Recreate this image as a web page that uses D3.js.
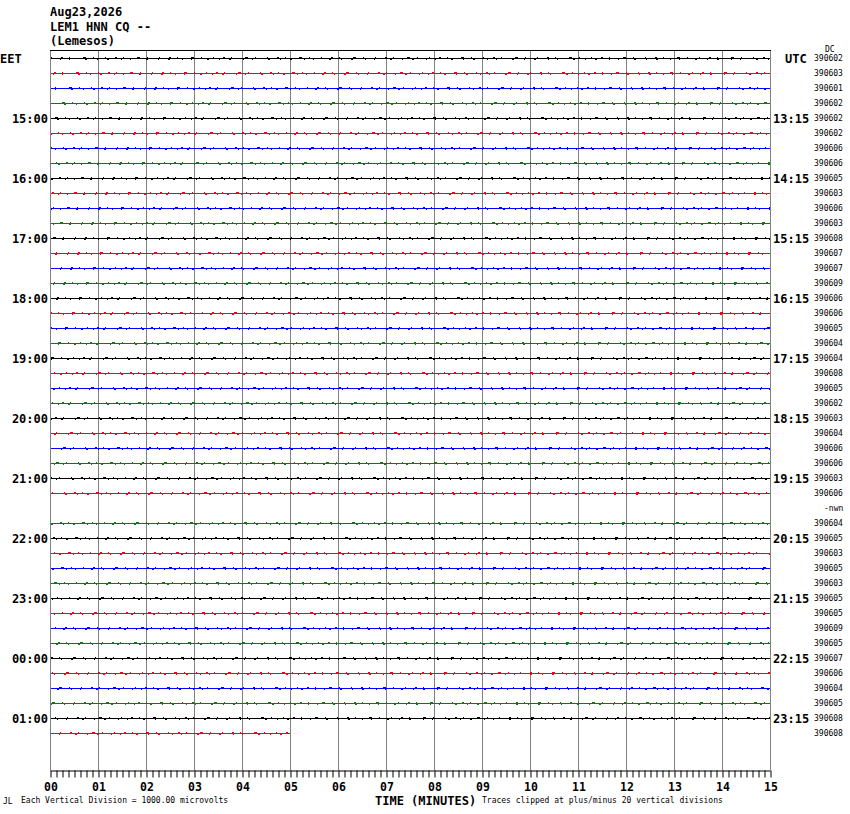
<!DOCTYPE html>
<html>
<head>
<meta charset="utf-8">
<script src="https://cdn.jsdelivr.net/npm/d3@7/dist/d3.min.js"></script>
<style>
  body { margin: 0; background: #fff; }
  svg { display: block; }
  .big { font-family: "DejaVu Sans Mono", monospace; font-weight: bold; font-size: 12px; fill: #000; }
  .small { font-family: "DejaVu Sans Mono", monospace; font-size: 8px; fill: #000; }
</style>
</head>
<body>
<svg id="heli" width="850" height="814"></svg>
<script>
// ===== heliplot: 15 minute rows, one trace per row =====

var headerLines = ["Aug23,2026", "LEM1 HNN CQ --", "(Lemesos)"];

// left (EET) and right (UTC) hour labels, with the row they sit on
var labelRows = [0, 4, 8, 12, 16, 20, 24, 28, 32, 36, 40, 44];
var eetLabels = ["EET", "15:00", "16:00", "17:00", "18:00", "19:00", "20:00",
                 "21:00", "22:00", "23:00", "00:00", "01:00"];
var utcLabels = ["UTC", "13:15", "14:15", "15:15", "16:15", "17:15", "18:15",
                 "19:15", "20:15", "21:15", "22:15", "23:15"];

// per-row DC value printed at the right margin
var dcValues = [
  "390602", "390603", "390601", "390602", "390602", "390602", "390606", "390606",
  "390605", "390603", "390606", "390603", "390608", "390607", "390607", "390609",
  "390606", "390606", "390605", "390604", "390604", "390608", "390605", "390602",
  "390603", "390604", "390606", "390606", "390603", "390606", "-nwn",   "390604",
  "390605", "390603", "390605", "390603", "390605", "390605", "390609", "390605",
  "390607", "390606", "390604", "390605", "390608", "390608"
];

// minutes of data in each row (null = no data)
var traceMinutes = [
  15, 15, 15, 15, 15, 15, 15, 15, 15, 15, 15, 15, 15, 15, 15, 15,
  15, 15, 15, 15, 15, 15, 15, 15, 15, 15, 15, 15, 15, 15, null, 15,
  15, 15, 15, 15, 15, 15, 15, 15, 15, 15, 15, 15, 15, 5
];

var traceColours = ["#000000", "#ff0000", "#0000ff", "#008000"];
var minuteTicks = d3.range(0, 16);
var tickLabels = ["00", "01", "02", "03", "04", "05", "06", "07",
                  "08", "09", "10", "11", "12", "13", "14", "15"];

var svg = d3.select("#heli");

var x = d3.scaleLinear().domain([0, 15]).range([50, 770]);
var y = d3.scaleLinear().domain([0, 45]).range([58, 733]);
var plotTop = 50, plotBottom = 770;

// Header
svg.selectAll(".hdr")
  .data(headerLines)
  .join("text")
  .attr("class", "hdr big")
  .attr("x", 50)
  .attr("y", function(d, i) { return 16 + i * 14.5; })
  .text(function(d) { return d; });

// Vertical minute grid
svg.append("g").selectAll("line")
  .data(minuteTicks)
  .join("line")
  .attr("x1", function(d) { return x(d) + 0.5; })
  .attr("x2", function(d) { return x(d) + 0.5; })
  .attr("y1", plotTop).attr("y2", plotBottom)
  .attr("stroke", "#808080").attr("stroke-width", 1);

// Top border
svg.append("line")
  .attr("x1", x(0)).attr("x2", x(15) + 1)
  .attr("y1", plotTop + 0.5).attr("y2", plotTop + 0.5)
  .attr("stroke", "#000").attr("stroke-width", 1);

// Traces
var rows = traceMinutes.map(function(m, i) { return { row: i, minutes: m }; })
  .filter(function(d) { return d.minutes != null; });

var traceG = svg.append("g");
traceG.selectAll(".trace")
  .data(rows)
  .join("line")
  .attr("class", "trace")
  .attr("x1", x(0) + 1)
  .attr("x2", function(d) { return x(d.minutes); })
  .attr("y1", function(d) { return y(d.row) + 0.5; })
  .attr("y2", function(d) { return y(d.row) + 0.5; })
  .attr("stroke", function(d) { return traceColours[d.row % 4]; })
  .attr("stroke-width", 1);

// sparse noise texture just above / below the trace
[[-1, "1,9,2,6,1,13,3,7,1,11"], [1, "2,12,1,8,1,15,2,10,1,9"]].forEach(function(o, k) {
  traceG.selectAll(".noise" + k)
    .data(rows)
    .join("line")
    .attr("class", "noise" + k)
    .attr("x1", x(0) + 1)
    .attr("x2", function(d) { return x(d.minutes); })
    .attr("y1", function(d) { return y(d.row) + 0.5 + o[0]; })
    .attr("y2", function(d) { return y(d.row) + 0.5 + o[0]; })
    .attr("stroke", function(d) { return traceColours[d.row % 4]; })
    .attr("stroke-width", 1)
    .attr("stroke-dasharray", o[1])
    .attr("stroke-dashoffset", function(d) { return d.row * 7 + k * 5; });
});

// Left (EET) labels
svg.selectAll(".eet")
  .data(eetLabels)
  .join("text")
  .attr("class", "eet big")
  .attr("x", function(d, i) { return i === 0 ? 0 : 48; })
  .attr("y", function(d, i) { return y(labelRows[i]) + 4.5; })
  .attr("text-anchor", function(d, i) { return i === 0 ? "start" : "end"; })
  .text(function(d) { return d; });

// Right (UTC) labels
svg.selectAll(".utc")
  .data(utcLabels)
  .join("text")
  .attr("class", "utc big")
  .attr("x", function(d, i) { return i === 0 ? 785 : 773; })
  .attr("y", function(d, i) { return y(labelRows[i]) + 4.5; })
  .text(function(d) { return d; });

// DC values
svg.selectAll(".dc")
  .data(dcValues)
  .join("text")
  .attr("class", "dc small")
  .attr("x", function(d) { return d === "-nwn" ? 824 : 814; })
  .attr("y", function(d, i) { return y(i) + 2.5; })
  .text(function(d) { return d; });

svg.append("text").attr("class", "small")
  .attr("x", 825).attr("y", 52).attr("font-size", 6.5).text("DC");

// Time axis
var minorTicks = d3.range(0, 15.0001, 1 / 8);
svg.append("g")
  .attr("transform", "translate(0," + (plotBottom + 0.5) + ")")
  .call(d3.axisBottom(x).tickValues(minorTicks).tickSize(7).tickSizeOuter(0).tickFormat(""))
  .call(function(g) {
    g.select(".domain").attr("stroke", "#000");
    g.selectAll(".tick line").attr("stroke", "#000").attr("transform", "translate(0.5,0)");
  });

svg.append("g")
  .attr("transform", "translate(0," + (plotBottom + 0.5) + ")")
  .call(d3.axisBottom(x).tickValues(minuteTicks).tickSize(0).tickPadding(12)
    .tickFormat(function(d) { return tickLabels[d]; }))
  .call(function(g) {
    g.select(".domain").remove();
    g.selectAll("text")
      .attr("class", "big")
      .attr("font-family", null).attr("font-size", null)
      .style("font-size", "11.5px")
      .attr("fill", "#000")
      .attr("dx", "0.5");
  });

svg.append("text").attr("class", "big")
  .attr("x", 375).attr("y", 805).text("TIME (MINUTES)");

svg.append("text").attr("class", "small")
  .attr("x", 21).attr("y", 803).text("Each Vertical Division = 1000.00 microvolts");

svg.append("text").attr("class", "small")
  .attr("x", 482).attr("y", 803).text("Traces clipped at plus/minus 20 vertical divisions");

svg.append("text").attr("class", "small")
  .attr("x", 3).attr("y", 804).attr("font-size", 6).text("JL");
</script>
</body>
</html>
